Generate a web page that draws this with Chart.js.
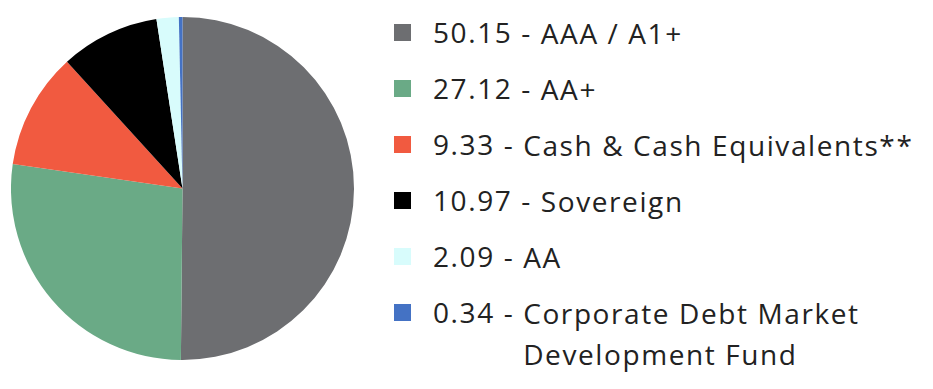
<!DOCTYPE html>
<html>
<head>
<meta charset="utf-8">
<script src="https://cdn.jsdelivr.net/npm/chart.js@4/dist/chart.umd.min.js"></script>
<style>
    body { margin: 0; background: #fff; width: 933px; height: 389px; overflow: hidden; position: relative; }
    #pieBox { position: absolute; left: 11px; top: 17px; width: 343px; height: 343px; }
    #legend { position: absolute; left: 394px; top: 13px; font-family: "Open Sans", sans-serif; font-size: 28px; letter-spacing: 1.6px; color: #222; }
    .row { display: flex; align-items: flex-start; height: 56px; line-height: 38px; }
    .box { width: 17px; height: 17px; margin-top: 11px; margin-right: 22px; flex: none; }
    .val { white-space: pre; }
    .lab { white-space: pre-line; line-height: 41px; }
</style>
</head>
<body>
<div id="pieBox"><canvas id="pie"></canvas></div>
<div id="legend"></div>
<script>
// legend entries as printed
let values = [50.15, 27.12, 9.33, 10.97, 2.09, 0.34];
let labels = ["AAA / A1+", "AA+", "Cash & Cash Equivalents**", "Sovereign", "AA", "Corporate Debt Market\nDevelopment Fund"];
let colors = ["#6d6e71", "#6aaa86", "#f15a40", "#000000", "#d8fcfc", "#4472c4"];

// the pie in the source draws the values largest first, colours in legend order
let pieValues = values.slice().sort((a, b) => b - a);

let ctx = document.getElementById('pie');
let myChart = new Chart(ctx, {
    type: 'pie',
    data: {
        labels: labels,
        datasets: [{
            data: pieValues,
            backgroundColor: colors,
            borderWidth: 0
        }]
    },
    options: {
        animation: false,
        responsive: true,
        maintainAspectRatio: false,
        plugins: {
            legend: { display: false },
            tooltip: { enabled: false }
        }
    }
});

// legend on the right
let legend = document.getElementById('legend');
values.forEach((v, i) => {
    let row = document.createElement('div');
    row.className = 'row';
    row.innerHTML = '<div class="box" style="background:' + colors[i] + '"></div>' +
        '<span class="val">' + v.toFixed(2) + ' - </span><span class="lab"></span>';
    row.querySelector('.lab').textContent = labels[i];
    legend.appendChild(row);
});
</script>
</body>
</html>
